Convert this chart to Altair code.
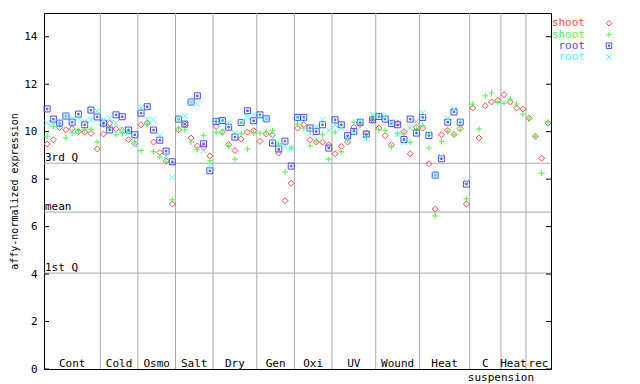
import altair as alt
import pandas as pd

# ---------------- data ----------------
region_names = ["Cont", "Cold", "Osmo", "Salt", "Dry", "Gen", "Oxi", "UV",
                "Wound", "Heat", "C", "Heat", "rec"]
region_sizes = [9, 6, 6, 6, 7, 6, 6, 7, 7, 8, 5, 4, 4]
sub_label = "suspension"

series_ids = ["shoot_1", "shoot_2", "root_1", "root_2"]
series_labels = ["shoot", "shoot", "root", "root"]

shoot_1 = (
    [9.48, 9.66, 10.17, 10.08, 10.12, 10.0, 9.98, 9.93, 9.27]      # Cont
    + [9.9, 10.36, 10.12, 10.05, 9.66, 9.5]                        # Cold
    + [10.29, 10.36, 9.56, 9.12, 8.77, 6.95]                       # Osmo
    + [10.08, 10.32, 9.73, 9.4, 9.35, 8.98]                        # Salt
    + [10.22, 9.98, 9.45, 9.2, 9.69, 9.98, 10.04]                  # Dry
    + [9.59, 9.9, 9.87, 9.1, 7.09, 7.83]                           # Gen
    + [10.15, 10.29, 9.66, 9.56, 9.56, 9.45]                       # Oxi
    + [9.07, 9.38, 9.56, 10.19, 10.3, 9.94, 10.5]                  # UV
    + [10.15, 9.83, 9.45, 10.36, 10.0, 9.07, 10.19]                # Wound
    + [10.15, 8.65, 6.74, 9.87, 10.05, 9.88, 10.13, 6.95]          # Heat
    + [11.0, 9.73, 11.09, 11.25, 11.32]                            # C suspension
    + [11.56, 11.25, 11.0, 10.95]                                  # Heat
    + [10.57, 9.8, 8.88, 10.36]                                    # rec
)
shoot_2 = (
    [9.81, 10.22, 10.25, 9.73, 9.95, 10.05, 10.08, 10.1, 9.56]
    + [10.29, 10.15, 9.87, 9.94, 10.0, 9.56]
    + [9.2, 10.32, 9.15, 8.93, 8.72, 7.13]
    + [10.15, 10.08, 9.56, 9.24, 9.83, 8.77]
    + [9.98, 9.94, 9.41, 8.84, 9.91, 9.27, 9.94]
    + [9.94, 9.98, 10.04, 9.48, 8.3, 9.31]
    + [10.32, 10.15, 9.4, 9.6, 9.87, 8.84]
    + [9.98, 9.15, 9.65, 10.4, 10.36, 9.76, 10.55]
    + [10.08, 10.05, 9.35, 9.92, 9.91, 9.55, 10.1]
    + [10.25, 9.31, 6.45, 9.59, 10.02, 9.87, 10.08, 7.17]
    + [11.16, 10.11, 11.51, 11.63, 11.23]
    + [11.2, 11.37, 11.16, 10.74]
    + [10.53, 9.8, 8.25, 10.4]
)
root_1 = (
    [10.96, 10.53, 10.36, 10.66, 10.4, 10.74, 10.29, 10.91, 10.62]
    + [10.36, 10.07, 10.71, 10.63, 10.07, 9.87]
    + [10.78, 11.05, 10.07, 9.64, 9.18, 8.73]
    + [10.53, 10.32, 11.25, 11.51, 9.49, 8.35]
    + [10.43, 10.47, 10.19, 9.77, 10.39, 10.88, 10.46]
    + [10.71, 10.54, 9.52, 9.27, 9.6, 8.55]
    + [10.6, 10.6, 10.15, 10.01, 10.29, 9.31]
    + [10.5, 10.29, 9.83, 10.01, 10.4, 9.9, 10.5]
    + [10.64, 10.53, 10.35, 10.29, 9.67, 10.53, 9.94]
    + [10.6, 9.84, 8.17, 8.86, 10.4, 10.83, 10.4, 7.79]
    + [None] * 13
)
root_2 = (
    [10.38, 10.4, 10.36, 10.68, 10.55, 10.57, 10.43, 10.5, 10.86]
    + [10.5, 10.57, 10.36, 10.1, 9.97, 9.45]
    + [11.0, 10.53, 10.5, 9.83, 8.97, 8.08]
    + [10.53, 10.67, 11.25, 11.16, 9.2, 8.53]
    + [10.5, 10.47, 10.36, 9.94, 10.42, 10.6, 10.71]
    + [10.65, 10.54, 9.72, 9.45, 9.38, 9.31]
    + [10.58, 10.55, 9.94, 10.2, 10.5, 10.06]
    + [10.29, 10.15, 9.7, 9.95, 10.45, 9.72, 10.71]
    + [10.69, 10.6, 10.4, 9.9, 9.55, 10.15, 10.43]
    + [10.79, 9.9, 8.17, 8.95, 10.55, 10.95, 10.45, 7.9]
    + [None] * 13
)

quartile_names = ["3rd Q", "mean", "1st Q"]
quartile_values = [8.67, 6.61, 4.04]
y_ticks = [0, 2, 4, 6, 8, 10, 12, 14]

# ---------------- styles ----------------
colors = ["#ff4848", "#48ff48", "#4848ff", "#48ffff"]
shapes = [
    "M0,-1L1,0L0,1L-1,0Z",
    "M-1,0L1,0M0,-1L0,1",
    "M-1,-1L1,-1L1,1L-1,1ZM-0.25,-0.25L0.25,-0.25L0.25,0.25L-0.25,0.25Z",
    "M-1,-1L1,1M-1,1L1,-1",
]
FONT = "DejaVu Sans Mono"
FS = 11
W, H = 507, 356
GRAY = "#a8a8a8"

n_pos = sum(region_sizes)

# ---------------- tables ----------------
rows = []
for sid, vals in zip(series_ids, [shoot_1, shoot_2, root_1, root_2]):
    for i, v in enumerate(vals):
        if v is not None:
            rows.append({"pos": i + 0.5, "value": v, "series": sid})
points_df = pd.DataFrame(rows)

bounds, centers = [], []
acc = 0
for s in region_sizes:
    centers.append(acc + s / 2)
    acc += s
    bounds.append(acc)
sep_df = pd.DataFrame({"x": bounds[:-1]})
lab_df = pd.DataFrame({"x": centers, "name": region_names})
sub_df = pd.DataFrame({"x": [bounds[10]], "name": [sub_label]})
q_df = pd.DataFrame({"v": quartile_values, "name": quartile_names})
tick_df = pd.DataFrame({"v": y_ticks})

xscale = alt.Scale(domain=[0, n_pos], nice=False, zero=False)
yscale = alt.Scale(domain=[0, 15], nice=False, zero=False)

X = lambda f: alt.X(f, scale=xscale, axis=None)

seps = alt.Chart(sep_df).mark_rule(color=GRAY, strokeWidth=1).encode(x=X("x:Q"))

qlines = alt.Chart(q_df).mark_rule(color=GRAY, strokeWidth=1).encode(
    y=alt.Y("v:Q", scale=yscale,
            axis=alt.Axis(values=y_ticks, ticks=False, domain=False, grid=False,
                          labelFont=FONT, labelFontSize=FS, labelColor="black",
                          labelPadding=7, title="affy-normalized expression",
                          titleFont=FONT, titleFontSize=10, titleFontWeight="normal",
                          titleColor="black", titleX=-30, titleY=H / 2,
                          titleAngle=270, titleAlign="center", titleBaseline="middle"))
)
qtext = alt.Chart(q_df).mark_text(align="left", baseline="alphabetic", dx=1, dy=-2,
                                  font=FONT, fontSize=FS, color="black").encode(
    x=alt.value(0), y=alt.Y("v:Q", scale=yscale), text="name:N")

ticks_l = alt.Chart(tick_df).mark_rule(color="black").encode(
    y=alt.Y("v:Q", scale=yscale), x=alt.value(0), x2=alt.value(5))
ticks_r = alt.Chart(tick_df).mark_rule(color="black").encode(
    y=alt.Y("v:Q", scale=yscale), x=alt.value(W - 5), x2=alt.value(W))

labels = alt.Chart(lab_df).mark_text(baseline="middle", font=FONT, fontSize=FS,
                                     color="black").encode(
    x=X("x:Q"), y=alt.value(351), text="name:N")
sublabel = alt.Chart(sub_df).mark_text(baseline="middle", font=FONT, fontSize=FS,
                                       color="black").encode(
    x=X("x:Q"), y=alt.value(365), text="name:N")

pts = alt.Chart(points_df).mark_point(filled=False, size=36, strokeWidth=1,
                                      opacity=1).encode(
    x=X("pos:Q"),
    y=alt.Y("value:Q", scale=yscale),
    color=alt.Color("series:N", scale=alt.Scale(domain=series_ids, range=colors),
                    legend=None),
    shape=alt.Shape("series:N", scale=alt.Scale(domain=series_ids, range=shapes),
                    legend=None),
)

legend_layers = []
leg_y = [10.3, 21.7, 32.7, 44.0]
for lab, col, shp, ly in zip(series_labels, colors, shapes, leg_y):
    d = pd.DataFrame({"t": [lab]})
    legend_layers.append(
        alt.Chart(d).mark_text(align="right", baseline="middle", font=FONT,
                               fontSize=FS, color=col).encode(
            x=alt.value(541), y=alt.value(ly), text="t:N"))
    legend_layers.append(
        alt.Chart(d).mark_point(shape=shp, filled=False, size=30, strokeWidth=1,
                                color=col, opacity=1).encode(
            x=alt.value(565), y=alt.value(ly)))

chart = alt.layer(seps, qlines, qtext, ticks_l, ticks_r, labels, sublabel, pts,
                  *legend_layers).properties(
    width=W, height=H,
    autosize=alt.AutoSizeParams(type="none"),
    padding={"left": 36, "top": 5, "right": 80, "bottom": 15},
).configure_view(stroke="black", strokeWidth=1)

chart.save("out.html", embed_options={"renderer": "svg", "actions": False})
